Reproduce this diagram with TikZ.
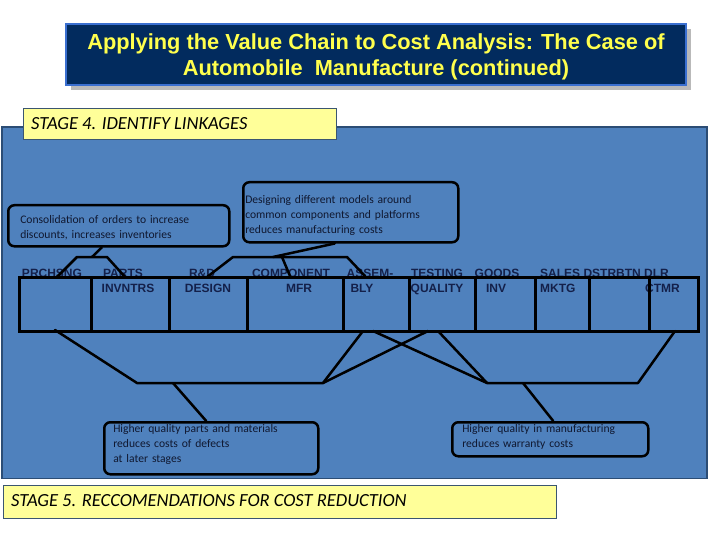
\documentclass[tikz,border=0pt]{standalone}
\usepackage{fontspec}
\setmainfont{Liberation Sans}
\newfontfamily\calib{Carlito}
\definecolor{panelblue}{HTML}{4F81BD}
\definecolor{panelborder}{HTML}{2C4D75}
\definecolor{titlenavy}{HTML}{022B5E}
\definecolor{titleborder}{HTML}{3A6FD0}
\definecolor{titleyellow}{HTML}{FFFF4D}
\definecolor{stageyellow}{HTML}{FFFF99}
\definecolor{stageborder}{HTML}{3B5670}
\definecolor{labelnavy}{HTML}{14204A}
\definecolor{calltext}{HTML}{101830}
\tikzset{
  cell/.style={draw=black, line width=2.5pt, minimum height=54pt, inner sep=0pt, anchor=north west},
  lab/.style={font=\fontsize{12}{13}\selectfont\bfseries, text=labelnavy, inner sep=0pt, anchor=base},
  labw/.style={lab, anchor=base west},
  callout/.style={draw=black, line width=2.5pt, rounded corners=6pt, inner sep=0pt, anchor=north west},
  calltxt/.style={align=left, inner sep=0pt, font=\calib\fontsize{11.6}{14.8}\selectfont, text=calltext},
  link/.style={draw=black, line width=2.5pt, line join=round, line cap=round},
  stagebox/.style={draw=stageborder, fill=stageyellow, line width=1.3pt, anchor=north west, inner sep=0pt},
  stagetext/.style={font=\calib\itshape\fontsize{18.5}{20}\selectfont, text=black, anchor=west, inner sep=0pt},
}
\begin{document}
\begin{tikzpicture}[x=1pt,y=-1pt]
\useasboundingbox (0,0) rectangle (720,540);
\fill[white] (0,0) rectangle (720,540);

% panel
\node[draw=panelborder, fill=panelblue, line width=1.5pt, minimum width=705pt, minimum height=351pt,
  inner sep=0pt, anchor=north west] (panel) at (1,126.5) {};

% title
\fill[gray!55] (71,29) rectangle (691,90);
\node[draw=titleborder, fill=titlenavy, line width=2pt, minimum width=620pt, minimum height=61pt,
  inner sep=0pt] (title) at (376,54.5) {};
\node[inner sep=0pt, align=center, text=titleyellow, font=\bfseries\fontsize{21.8}{26}\selectfont] (titletext) at (376,56.5)
  {Applying the Value Chain to Cost Analysis: The Case of\\Automobile\ \ Manufacture (continued)};

% stage 4
\node[stagebox, minimum width=313pt, minimum height=31pt] (s4) at (23,108) {};
\node[stagetext] (s4t) at (31,123.5) {STAGE 4. IDENTIFY LINKAGES};

% stage 5
\node[stagebox, minimum width=553pt, minimum height=33pt] (s5) at (3,485) {};
\node[stagetext] (s5t) at (11,501) {STAGE 5. RECCOMENDATIONS FOR COST REDUCTION};

% chain labels
\node[lab] (l1) at (52,277) {PRCHSNG};
\node[lab] (l2) at (123,277) {PARTS};
\node[lab] (l2b) at (128,292) {INVNTRS};
\node[lab] (l3) at (202,277) {R\&D};
\node[lab] (l3b) at (208,292) {DESIGN};
\node[lab] (l4) at (291,277) {COMPONENT};
\node[lab] (l4b) at (299,292) {MFR};
\node[lab] (l5) at (370,277) {ASSEM-};
\node[lab] (l5b) at (362,292) {BLY};
\node[lab] (l6) at (437,277) {TESTING};
\node[lab] (l6b) at (437,292) {QUALITY};
\node[lab] (l7) at (497,277) {GOODS};
\node[lab] (l7b) at (496,292) {INV};
\node[labw] (l8) at (540,277) {SALES DSTRBTN DLR};
\node[labw] (l8b) at (540,292) {MKTG};
\node[labw] (l10b) at (645,292) {CTMR};

% chain cells
\node[cell, minimum width=72pt] (c1) at (18,276) {};
\node[cell, minimum width=78pt] (c2) at (90,276) {};
\node[cell, minimum width=78pt] (c3) at (168,276) {};
\node[cell, minimum width=96pt] (c4) at (246,276) {};
\node[cell, minimum width=66pt] (c5) at (342,276) {};
\node[cell, minimum width=66pt] (c6) at (408,276) {};
\node[cell, minimum width=60pt] (c7) at (474,276) {};
\node[cell, minimum width=54pt] (c8) at (534,276) {};
\node[cell, minimum width=60pt] (c9) at (588,276) {};
\node[cell, minimum width=49pt] (c10) at (648,276) {};

% callouts
\node[callout, minimum width=221pt, minimum height=41pt] (co1) at (7,204) {};
\node[calltxt, text width=197pt] (co1t) at ([yshift=-2pt]co1.center)
  {Consolidation of orders to increase\\discounts, increases inventories};
\node[callout, minimum width=215pt, minimum height=60pt] (co2) at (242,181) {};
\node[calltxt, text width=211pt] (co2t) at ([yshift=-3.5pt]co2.center)
  {Designing different models around\\common components and platforms\\reduces manufacturing costs};
\node[callout, minimum width=214pt, minimum height=52pt] (co3) at (103,421) {};
\node[calltxt, text width=196pt] (co3t) at ([yshift=4pt]co3.center)
  {Higher quality parts and materials\\reduces costs of defects\\at later stages};
\node[callout, minimum width=196pt, minimum height=34pt] (co4) at (451,421) {};
\node[calltxt, text width=176pt] (co4t) at ([yshift=2pt]co4.center)
  {Higher quality in manufacturing\\reduces warranty costs};

% linkage brackets
\coordinate (j1) at (92,257);
\draw[link] ([xshift=-17pt]co1.south) -- (j1);
\draw[link] (57,277) -- (77,257) -- (107,257) -- (125,277);

\coordinate (j2) at (273,257);
\draw[link] ([xshift=-16pt]co2.south) -- (j2);
\draw[link] (207,277) -- (233,257) -- (347,257) -- (365,276);
\draw[link] (282,257) -- (290,276);

\coordinate (j3) at (173,383);
\draw[link] ([xshift=-5pt]co3.north) -- (j3);
\draw[link] (55,330) -- (137,383) -- (323,383) -- (363,331);
\draw[link] (323,383) -- (428,331);

\coordinate (j4) at (523,383);
\draw[link] ([xshift=3pt]co4.north) -- (j4);
\draw[link] (373,331) -- (487,383) -- (638,383) -- (675,331);
\draw[link] (438,331) -- (487,383);
\end{tikzpicture}
\end{document}
